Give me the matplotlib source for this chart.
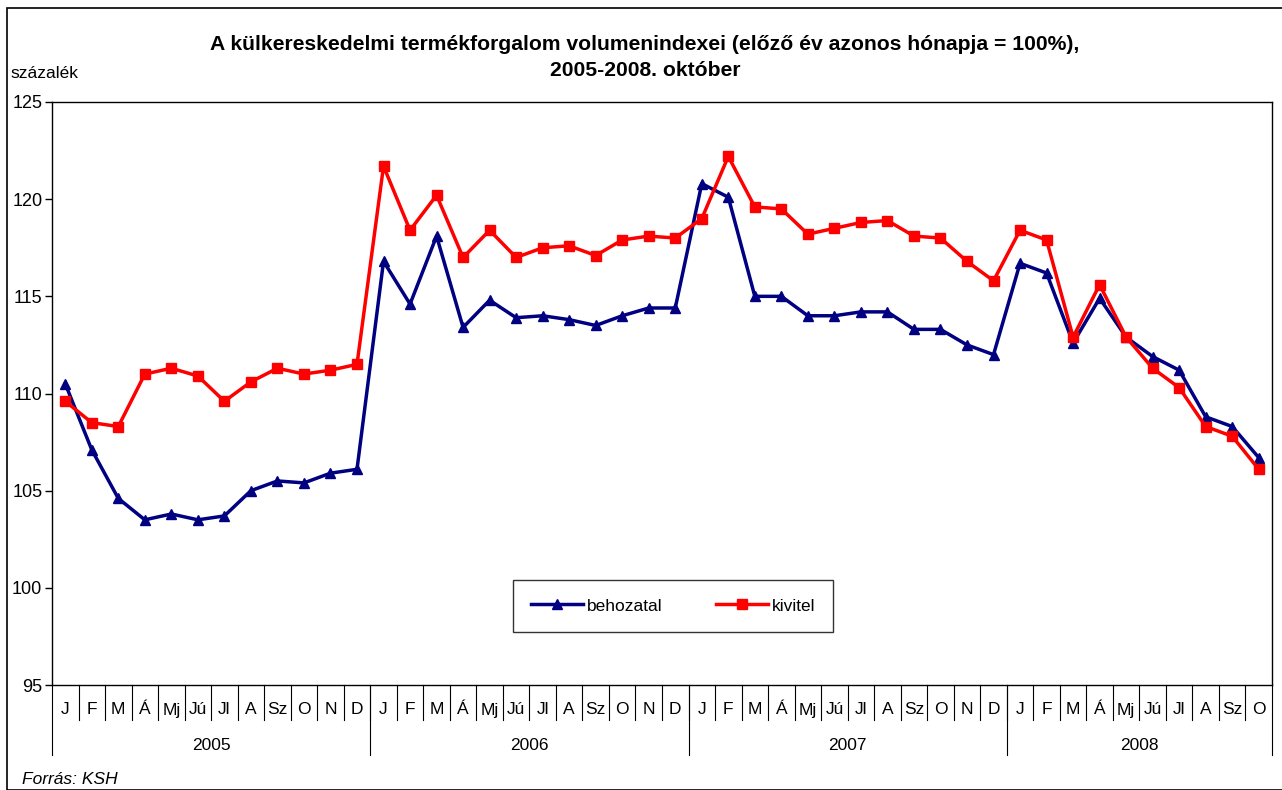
import matplotlib
matplotlib.use("Agg")
import matplotlib.pyplot as plt
from matplotlib.patches import Rectangle
from matplotlib.lines import Line2D

plt.rcParams['font.family'] = ['Liberation Sans', 'DejaVu Sans']

months = ["J", "F", "M", "Á", "Mj", "Jú", "Jl", "A", "Sz", "O", "N", "D"]
years = ["2005", "2006", "2007", "2008"]
month_labels = months * 3 + months[:10]

behozatal = [110.5, 107.1, 104.6, 103.5, 103.8, 103.5, 103.7, 105.0, 105.5, 105.4, 105.9, 106.1,
             116.8, 114.6, 118.1, 113.4, 114.8, 113.9, 114.0, 113.8, 113.5, 114.0, 114.4, 114.4,
             120.8, 120.1, 115.0, 115.0, 114.0, 114.0, 114.2, 114.2, 113.3, 113.3, 112.5, 112.0,
             116.7, 116.2, 112.6, 114.9, 112.9, 111.9, 111.2, 108.8, 108.3, 106.7]
kivitel = [109.6, 108.5, 108.3, 111.0, 111.3, 110.9, 109.6, 110.6, 111.3, 111.0, 111.2, 111.5,
           121.7, 118.4, 120.2, 117.0, 118.4, 117.0, 117.5, 117.6, 117.1, 117.9, 118.1, 118.0,
           119.0, 122.2, 119.6, 119.5, 118.2, 118.5, 118.8, 118.9, 118.1, 118.0, 116.8, 115.8,
           118.4, 117.9, 112.9, 115.6, 112.9, 111.3, 110.3, 108.3, 107.8, 106.1]

W, H = 1282, 790
fig = plt.figure(figsize=(W / 100, H / 100), dpi=100)

# outer border
fig.patches.append(Rectangle((7 / W, 0), 1.0, 1 - 8 / H, transform=fig.transFigure,
                             fill=False, edgecolor='black', linewidth=1.2))

L, R, T, B = 52, 1272, 102, 685
ax = fig.add_axes([L / W, 1 - B / H, (R - L) / W, (B - T) / H])

n = len(behozatal)
x = list(range(n))
ax.plot(x, behozatal, color='#000080', linewidth=2.5, marker='^', markersize=7.5,
        label='behozatal', clip_on=False, zorder=3)
ax.plot(x, kivitel, color='#FF0000', linewidth=2.5, marker='s', markersize=7.8,
        label='kivitel', clip_on=False, zorder=4)

ax.set_xlim(-0.5, n - 0.5)
ax.set_ylim(95, 125)
ax.set_yticks([95, 100, 105, 110, 115, 120, 125])
ax.tick_params(axis='y', labelsize=13, length=5, width=1, direction='out', pad=2)
ax.set_xticks([])
for s in ax.spines.values():
    s.set_linewidth(1)
    s.set_color('black')

ph = B - T
def yf(ypix):
    return (B - ypix) / ph

trans = ax.get_xaxis_transform()
# month labels and separators
for i, lab in enumerate(month_labels):
    ax.text(i, yf(710), lab, transform=trans, ha='center', va='center', fontsize=12.5)
    if i < n - 1:
        ax.add_line(Line2D([i + 0.5, i + 0.5], [0, yf(720)], transform=trans,
                           color='black', linewidth=0.8, clip_on=False))
# year separators and labels
bounds = [-0.5, 11.5, 23.5, 35.5, n - 0.5]
for b in bounds:
    ax.add_line(Line2D([b, b], [0, yf(755)], transform=trans,
                       color='black', linewidth=0.8, clip_on=False))
for k, yr in enumerate(years):
    ax.text((bounds[k] + bounds[k + 1]) / 2, yf(746), yr, transform=trans,
            ha='center', va='center', fontsize=12.5)

leg = ax.legend(loc='center', bbox_to_anchor=((673 - L) / (R - L), yf(606)), ncol=2,
                fontsize=12.5, frameon=True, fancybox=False, edgecolor='black',
                handlelength=3.0, handletextpad=0.2, columnspacing=3.1,
                borderpad=1.05, borderaxespad=0)
leg.get_frame().set_linewidth(1)

fig.text(645 / W, 1 - 44 / H, "A külkereskedelmi termékforgalom volumenindexei (előző év azonos hónapja = 100%),",
         ha='center', va='center', fontsize=15.2, fontweight='bold')
fig.text(645 / W, 1 - 70 / H, "2005-2008. október",
         ha='center', va='center', fontsize=15.2, fontweight='bold')
fig.text(10 / W, 1 - 73 / H, "százalék", ha='left', va='center', fontsize=12.5)
fig.text(22 / W, 1 - 780 / H, "Forrás: KSH", ha='left', va='center', fontsize=12.5, style='italic')

fig.savefig("out.png", dpi=100)
